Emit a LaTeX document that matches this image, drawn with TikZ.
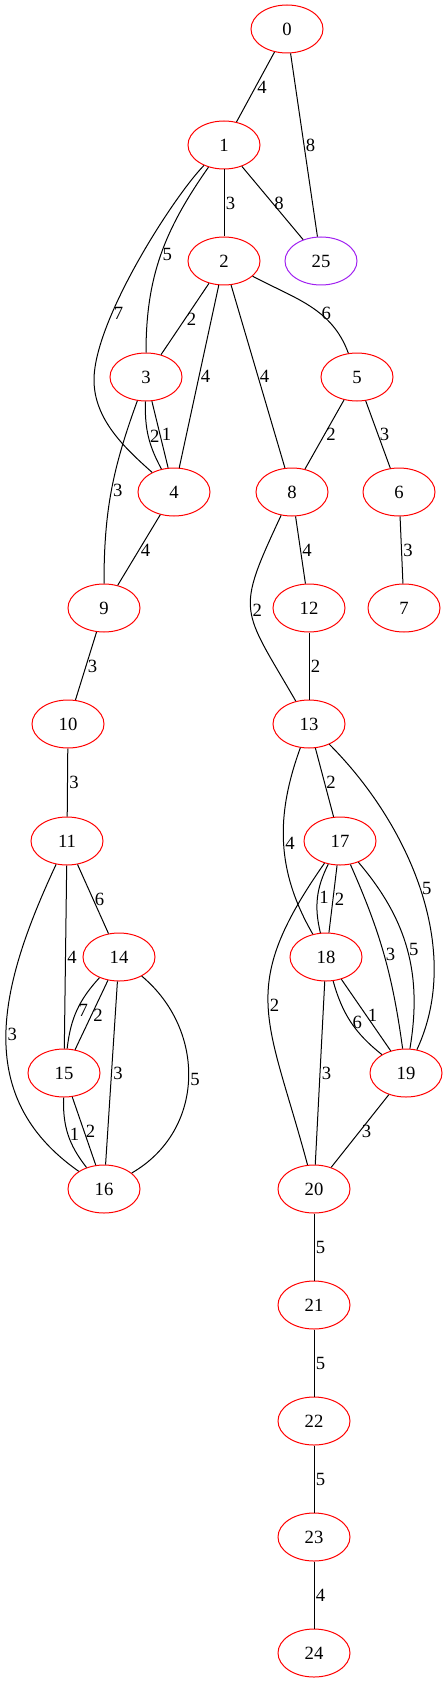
\documentclass[tikz,border=0pt]{standalone}
\usepackage{fontspec}
\setmainfont{Liberation Serif}
\usepackage{tikz}
\usetikzlibrary{shapes}
\definecolor{vertexred}{RGB}{255,0,0}
\definecolor{vertexpurple}{RGB}{160,32,240}
\tikzset{
  vertex/.style={draw=vertexred, ellipse, minimum width=54pt, minimum height=36pt, inner sep=0pt, line width=0.75pt, font=\fontsize{14pt}{16pt}\selectfont},
  link/.style={line width=0.75pt},
  wt/.style={midway, anchor=west, inner sep=1pt, font=\fontsize{14pt}{16pt}\selectfont}
}

\begin{document}
\begin{tikzpicture}[x=0.75pt, y=-0.75pt]
\useasboundingbox (0,0) rectangle (447,1683);
\node[vertex] (n0) at (287,29) {0};
\node[vertex] (n1) at (224,145) {1};
\node[vertex] (n2) at (224,261) {2};
\node[vertex, draw=vertexpurple] (n25) at (321,261) {25};
\node[vertex] (n3) at (146,377) {3};
\node[vertex] (n5) at (357,377) {5};
\node[vertex] (n4) at (174,492) {4};
\node[vertex] (n8) at (292,492) {8};
\node[vertex] (n6) at (399,492) {6};
\node[vertex] (n9) at (104,608) {9};
\node[vertex] (n12) at (309,608) {12};
\node[vertex] (n7) at (404,608) {7};
\node[vertex] (n10) at (68,724) {10};
\node[vertex] (n13) at (309,724) {13};
\node[vertex] (n11) at (67,841) {11};
\node[vertex] (n17) at (340,841) {17};
\node[vertex] (n14) at (119,957) {14};
\node[vertex] (n18) at (326,957) {18};
\node[vertex] (n15) at (64,1073) {15};
\node[vertex] (n19) at (406,1073) {19};
\node[vertex] (n16) at (104,1189) {16};
\node[vertex] (n20) at (314,1189) {20};
\node[vertex] (n21) at (314,1305) {21};
\node[vertex] (n22) at (314,1421) {22};
\node[vertex] (n23) at (314,1537) {23};
\node[vertex] (n24) at (314,1653) {24};
\coordinate (k14) at (94,380);

\draw[link] (n0) -- node[wt] {4} (n1);
\draw[link] (n0) -- node[wt] {8} (n25);
\draw[link] (n1) -- node[wt] {3} (n2);
\draw[link] (n1) -- node[wt] {8} (n25);
\draw[link] (n1) to[out=235, in=90] node[wt] {5} (n3);
\draw[link] (n1) .. controls (174,196) and (94,320) .. (k14) node[wt, pos=0.7] {7}
  .. controls (94,420) and (126,449) .. (n4);
\draw[link] (n2) -- node[wt] {2} (n3);
\draw[link] (n2) -- node[wt] {4} (n4);
\draw[link] (n2) -- node[wt] {4} (n8);
\draw[link] (n2) to[out=-28, in=110] node[wt, pos=0.6] {6} (n5);
\draw[link] (n3) to[bend right=15] node[wt] {2} (n4);
\draw[link] (n3) -- node[wt] {1} (n4);
\draw[link] (n3) to[out=250, in=90] node[wt] {3} (n9);
\draw[link] (n4) -- node[wt] {4} (n9);
\draw[link] (n5) -- node[wt] {2} (n8);
\draw[link] (n5) -- node[wt] {3} (n6);
\draw[link] (n6) -- node[wt] {3} (n7);
\draw[link] (n8) -- node[wt] {4} (n12);
\draw[link] (n8) to[out=245, in=120, looseness=1.5] node[wt] {2} (n13);
\draw[link] (n12) -- node[wt] {2} (n13);
\draw[link] (n9) -- node[wt] {3} (n10);
\draw[link] (n10) -- node[wt] {3} (n11);
\draw[link] (n13) -- node[wt] {2} (n17);
\draw[link] (n13) to[out=250, in=120] node[wt] {4} (n18);
\draw[link] (n13) to[out=-45, in=65, looseness=0.9] node[wt] {5} (n19);
\draw[link] (n11) -- node[wt] {6} (n14);
\draw[link] (n11) -- node[wt] {4} (n15);
\draw[link] (n11) to[out=245, in=145, looseness=1.1] node[wt] {3} (n16);
\draw[link] (n17) to[bend right=20] node[wt] {1} (n18);
\draw[link] (n17) -- node[wt] {2} (n18);
\draw[link] (n17) to[bend left=8] node[wt] {3} (n19);
\draw[link] (n17) to[bend left=25] node[wt] {5} (n19);
\draw[link] (n17) to[out=235, in=105, looseness=1.3] node[wt] {2} (n20);
\draw[link] (n18) to[bend right=18] node[wt] {6} (n19);
\draw[link] (n18) -- node[wt] {1} (n19);
\draw[link] (n18) -- node[wt] {3} (n20);
\draw[link] (n19) -- node[wt] {3} (n20);
\draw[link] (n14) to[bend right=18] node[wt] {7} (n15);
\draw[link] (n14) -- node[wt] {2} (n15);
\draw[link] (n14) -- node[wt] {3} (n16);
\draw[link] (n14) to[out=-40, in=30, looseness=1.1] node[wt] {5} (n16);
\draw[link] (n15) to[bend right=20] node[wt] {1} (n16);
\draw[link] (n15) -- node[wt] {2} (n16);
\draw[link] (n20) -- node[wt] {5} (n21);
\draw[link] (n21) -- node[wt] {5} (n22);
\draw[link] (n22) -- node[wt] {5} (n23);
\draw[link] (n23) -- node[wt] {4} (n24);
\end{tikzpicture}
\end{document}
